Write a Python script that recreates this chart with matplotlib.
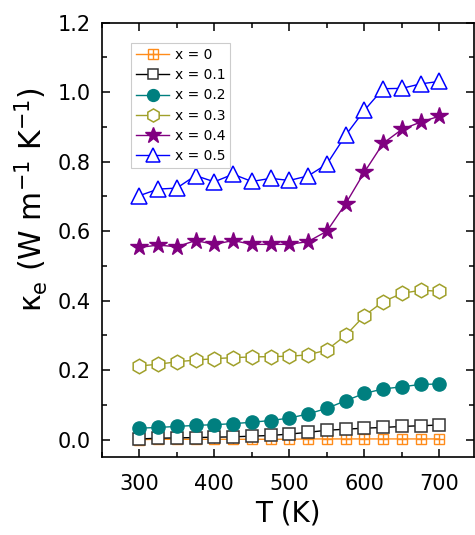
import matplotlib
matplotlib.use("Agg")
import matplotlib.pyplot as plt
from matplotlib.ticker import MultipleLocator, FormatStrFormatter
from matplotlib.legend_handler import HandlerTuple

plt.rcParams["font.family"] = ["DejaVu Sans"]
plt.rcParams["mathtext.default"] = "regular"

# temperature (K)
T = [300, 325, 350, 375, 400, 425, 450, 475, 500, 525, 550, 575, 600, 625, 650, 675, 700]

# electronic thermal conductivity for each composition
ke_00 = [0.000, 0.001, 0.001, 0.001, 0.001, 0.001, 0.001, 0.001, 0.001, 0.002, 0.002, 0.002, 0.002, 0.002, 0.002, 0.002, 0.002]
ke_01 = [0.002, 0.004, 0.005, 0.006, 0.007, 0.008, 0.010, 0.012, 0.016, 0.021, 0.027, 0.030, 0.033, 0.035, 0.038, 0.040, 0.042]
ke_02 = [0.033, 0.035, 0.038, 0.041, 0.043, 0.046, 0.050, 0.055, 0.062, 0.074, 0.090, 0.112, 0.133, 0.146, 0.152, 0.159, 0.160]
ke_03 = [0.212, 0.217, 0.224, 0.229, 0.233, 0.236, 0.238, 0.239, 0.240, 0.244, 0.258, 0.300, 0.357, 0.397, 0.421, 0.430, 0.427]
ke_04 = [0.553, 0.560, 0.555, 0.573, 0.562, 0.573, 0.562, 0.562, 0.562, 0.570, 0.600, 0.679, 0.770, 0.853, 0.893, 0.914, 0.931]
ke_05 = [0.702, 0.721, 0.724, 0.760, 0.742, 0.764, 0.743, 0.752, 0.746, 0.759, 0.793, 0.876, 0.948, 1.010, 1.011, 1.024, 1.031]

labels = ["x = 0", "x = 0.1", "x = 0.2", "x = 0.3", "x = 0.4", "x = 0.5"]

fig = plt.figure(figsize=(4.75, 5.35), dpi=100)
ax = fig.add_axes([101.7 / 475, 1 - 457 / 535, (474 - 101.7) / 475, (457 - 22.7) / 535])

orange = "#FF8C1A"
l0, = ax.plot(T, ke_00, color=orange, lw=1.0, marker="s", ms=7.5, mfc="none", mec=orange, mew=1.0)
p0, = ax.plot(T, ke_00, ls="none", color=orange, marker="+", ms=7.5, mew=1.0)
l1, = ax.plot(T, ke_01, color="black", lw=1.0, marker="s", ms=8.5, mfc="white", mec="#333333", mew=1.1)
l2, = ax.plot(T, ke_02, color="#007F7F", lw=1.0, marker="o", ms=9.5, mfc="#007F7F", mec="#007F7F")
l3, = ax.plot(T, ke_03, color="#A0A02A", lw=1.0, marker="h", ms=10.5, mfc="white", mec="#A0A02A", mew=1.1)
l4, = ax.plot(T, ke_04, color="#800080", lw=1.0, marker="*", ms=13, mfc="#800080", mec="#800080")
l5, = ax.plot(T, ke_05, color="#0000FF", lw=1.0, marker="^", ms=11, mfc="white", mec="#0000FF", mew=1.1)

ax.set_xlim(250, 746)
ax.set_ylim(-0.05, 1.2)
ax.xaxis.set_major_locator(MultipleLocator(100))
ax.xaxis.set_minor_locator(MultipleLocator(50))
ax.yaxis.set_major_locator(MultipleLocator(0.2))
ax.yaxis.set_minor_locator(MultipleLocator(0.1))
ax.yaxis.set_major_formatter(FormatStrFormatter("%.1f"))
ax.tick_params(which="both", direction="in", top=True, right=True, labelsize=15, width=1.1)
ax.tick_params(which="major", length=6)
ax.tick_params(which="minor", length=3.5)
ax.tick_params(axis="x", which="major", pad=12)
ax.tick_params(axis="y", which="major", pad=8)
for s in ax.spines.values():
    s.set_linewidth(1.2)

ax.set_xlabel("T (K)", fontsize=20, labelpad=4.5)
ax.set_ylabel("κ$_e$ (W m$^{-1}$ K$^{-1}$)", fontsize=21.5)
ax.yaxis.set_label_coords(-0.14, 0.592)

leg = ax.legend([(l0, p0), l1, l2, l3, l4, l5], labels,
                handler_map={tuple: HandlerTuple(ndivide=1, pad=0)},
                loc="upper left", bbox_to_anchor=(0.079, 0.953), borderaxespad=0,
                fontsize=10, fancybox=False, framealpha=1, edgecolor="#CCCCCC",
                handlelength=2.4, handletextpad=0.4, labelspacing=0.45,
                borderpad=0.35, markerscale=0.9)
leg.get_frame().set_linewidth(0.8)

fig.savefig("out.png", dpi=100)
plt.close(fig)
